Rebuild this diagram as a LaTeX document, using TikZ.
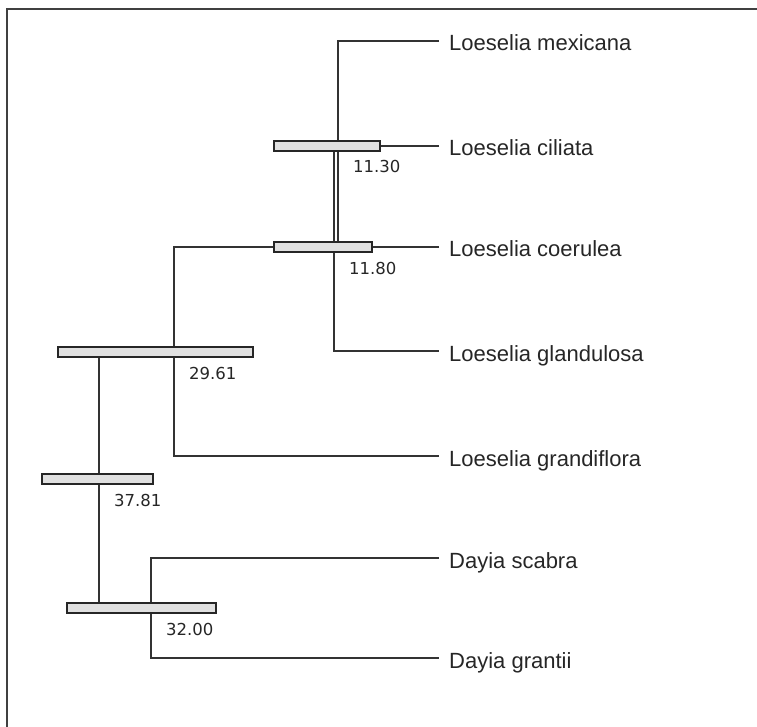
\documentclass[tikz,border=0pt]{standalone}
\usepackage{fontspec}
\setmainfont{Liberation Sans}
\newfontfamily\numfont{DejaVu Sans}
\tikzset{
  branch/.style={line width=1.3pt, draw=black!80},
  hpd/.style={draw=black!85, line width=1.2pt, fill=black!12},
  taxon/.style={anchor=base west, inner sep=0pt, text=black!85,
    font=\fontsize{22}{26}\selectfont},
  age/.style={anchor=base west, inner sep=0pt, text=black!85,
    font=\numfont\fontsize{16.5}{20}\selectfont}
}
\begin{document}
\begin{tikzpicture}[x=1pt,y=-1pt]
  \useasboundingbox (0,0) rectangle (757,727);
  \draw[line width=2pt, black!75] (7,740) -- (7,9) -- (770,9);
  % taxa and branch tips
  \foreach \n/\y/\t in {mex/41/Loeselia mexicana, cil/146/Loeselia ciliata,
    coe/247/Loeselia coerulea, gla/351/Loeselia glandulosa,
    gra/456/Loeselia grandiflora, sca/558/Dayia scabra, grt/658/Dayia grantii}
    {\node[taxon] (\n) at (449,\y+10) {\t};
     \coordinate (\n-tip) at (439,\y);}
  \coordinate (nA) at (338,247);
  \coordinate (nB) at (334,351);
  \coordinate (nC) at (174,456);
  \coordinate (nDtop) at (99,352);
  \coordinate (nDbot) at (99,608);
  \coordinate (nE) at (151,658);
  \draw[branch] (mex-tip) -| (nA);
  \draw[branch] (cil-tip) -| (nB) -- (gla-tip);
  \draw[branch] (coe-tip) -| (nC) -- (gra-tip);
  \draw[branch] (nDtop) -- (nDbot);
  \draw[branch] (sca-tip) -| (nE) -- (grt-tip);
  % node bars and ages
  \foreach \n/\a/\b/\y/\v/\t in {h1/274/380/146/338/11.30, h2/274/372/247/334/11.80,
    h3/58/253/352/174/29.61, h4/42/153/479/99/37.81, h5/67/216/608/151/32.00}
    {\draw[hpd] (\a,\y-5) rectangle (\b,\y+5);
     \node[age] (\n) at (\v+15,\y+27) {\t};}
\end{tikzpicture}
\end{document}
